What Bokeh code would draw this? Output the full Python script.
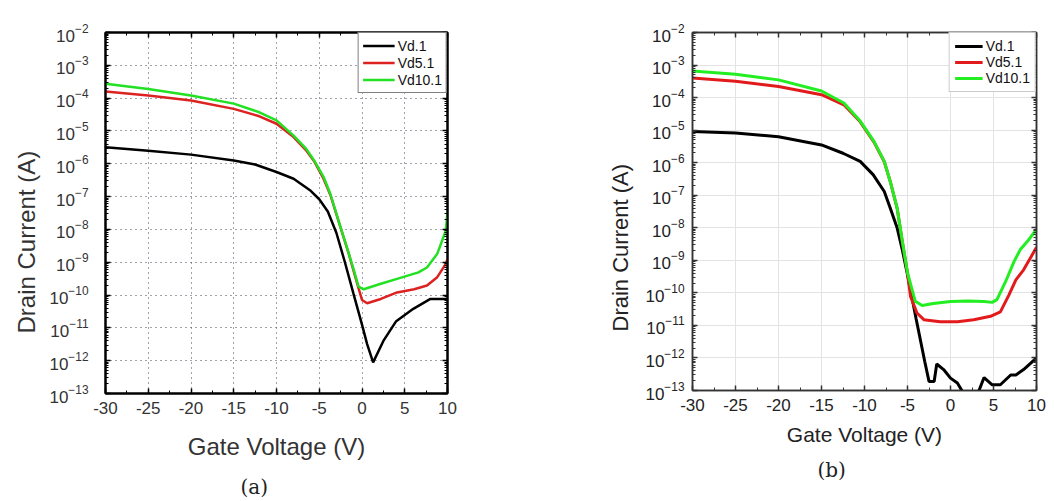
from bokeh.plotting import figure
from bokeh.layouts import row
from bokeh.models import LogAxis, LinearAxis, FixedTicker, Title, CustomJSTickFormatter
from bokeh.embed import file_html
from bokeh.resources import INLINE

# ---------------- data: panel (a) ----------------
a_vd1_v = [-30, -25, -20, -15, -12.5, -10, -8, -6, -5, -4, -3, -2, -1, 0, 0.6, 1.3, 2.5, 4, 6, 8, 10]
a_vd1_i = [3.2e-6, 2.5e-6, 1.9e-6, 1.26e-6, 9.5e-7, 5.6e-7, 3.5e-7, 1.5e-7, 8.3e-8, 3.5e-8,
           7.9e-9, 1.0e-9, 1.1e-10, 1.26e-11, 3.2e-12, 8.9e-13, 4.0e-12, 1.6e-11, 3.8e-11, 7.6e-11, 7.6e-11]

a_vd5_v = [-30, -25, -20, -15, -12, -10, -8, -6.5, -5.6, -4.5, -3.7, -2.5, -1.6, -0.4, 0.0, 0.6,
           2.2, 4.1, 6.1, 7.6, 8.8, 9.8, 10]
a_vd5_i = [1.6e-4, 1.2e-4, 8.5e-5, 4.7e-5, 2.8e-5, 1.66e-5, 6.5e-6, 2.5e-6, 1.2e-6, 3.5e-7, 1.12e-7,
           1.12e-8, 2.0e-9, 1.6e-10, 7.1e-11, 5.6e-11, 7.6e-11, 1.2e-10, 1.5e-10, 1.95e-10, 3.5e-10,
           8.9e-10, 1.26e-9]

a_vd10_v = [-30, -25, -20, -15, -12, -10, -8, -6.5, -5.6, -4.5, -3.7, -2.5, -1.7, -1.0, -0.4, 0.2,
            2.2, 4.1, 6.6, 7.6, 8.8, 9.8, 10]
a_vd10_i = [2.75e-4, 1.9e-4, 1.2e-4, 6.8e-5, 3.7e-5, 2.1e-5, 7.2e-6, 2.8e-6, 1.26e-6, 4.0e-7, 1.2e-7,
            1.15e-8, 2.5e-9, 6.3e-10, 1.8e-10, 1.5e-10, 2.2e-10, 3.1e-10, 4.9e-10, 6.9e-10, 1.8e-9,
            9.1e-9, 3.5e-8]

# ---------------- data: panel (b) ----------------
b_vd1_v = [-30, -25, -20, -15, -12.5, -10.5, -9, -7.7, -7, -6.2, -5.6, -5.0, -4, -3, -2.5, -1.9,
           -1.6, -0.8, 0.0, 0.8, 1.5, 2.3, 3.2, 3.9, 4.85, 5.8, 7.0, 7.6, 8.5, 10]
b_vd1_i = [9.1e-6, 8.1e-6, 6.3e-6, 3.5e-6, 1.95e-6, 1.1e-6, 4.3e-7, 1.3e-7, 4.0e-8, 9.8e-9, 2.1e-9,
           3.6e-10, 1.6e-11, 7.9e-13, 1.9e-13, 1.9e-13, 6.5e-13, 4.4e-13, 2.4e-13, 1.7e-13, 8.3e-14,
           2.5e-14, 8.3e-14, 2.5e-13, 1.5e-13, 1.5e-13, 3.0e-13, 3.0e-13, 4.4e-13, 1.0e-12]

b_vd5_v = [-30, -25, -20, -15, -12.4, -10.5, -8.9, -7.7, -7.0, -6.2, -5.6, -5.0, -4.65, -3.9, -3.1,
           -1.2, 0.8, 2.7, 4.65, 5.8, 6.8, 7.6, 8.5, 10]
b_vd5_i = [4.0e-4, 3.2e-4, 2.2e-4, 1.23e-4, 6.0e-5, 1.8e-5, 4.3e-6, 1.07e-6, 2.6e-7, 3.9e-8, 3.7e-9,
           4.0e-10, 7.8e-11, 2.4e-11, 1.5e-11, 1.3e-11, 1.3e-11, 1.5e-11, 1.9e-11, 2.6e-11, 8.7e-11,
           2.5e-10, 5.1e-10, 2.5e-9]

b_vd10_v = [-30, -25, -20, -15, -12.4, -10.5, -8.9, -7.7, -7.0, -6.2, -5.6, -5.0, -4.1, -3.3, -2.0,
            0.0, 2.0, 3.9, 4.85, 5.4, 6.4, 7.4, 8.1, 9.0, 10]
b_vd10_i = [6.6e-4, 5.2e-4, 3.5e-4, 1.6e-4, 6.8e-5, 1.9e-5, 4.5e-6, 1.1e-6, 2.6e-7, 4.0e-8, 3.8e-9,
            4.2e-10, 5.5e-11, 4.1e-11, 4.7e-11, 5.4e-11, 5.6e-11, 5.4e-11, 5.1e-11, 6.2e-11, 2.2e-10,
            9.3e-10, 2.1e-9, 4.0e-9, 8.9e-9]

series_names = ["Vd.1", "Vd5.1", "Vd10.1"]
x_label = "Gate Voltage (V)"
y_label = "Drain Current (A)"
panel_captions = ["(a)", "(b)"]

x_ticks = [-30, -25, -20, -15, -10, -5, 0, 5, 10]
x_minor = [-27.5, -22.5, -17.5, -12.5, -7.5, -2.5, 2.5, 7.5]
y_ticks = [1e-13, 1e-12, 1e-11, 1e-10, 1e-9, 1e-8, 1e-7, 1e-6, 1e-5, 1e-4, 1e-3, 1e-2]
y_minor = [m * t for t in y_ticks[:-1] for m in range(2, 10)]

FONT = "Liberation Sans"


def make_panel(series, colors, fw, fh, bl, bt, br, bb, style):
    p = figure(x_axis_type="linear", y_axis_type="log",
               x_range=(x_ticks[0], x_ticks[-1]), y_range=(y_ticks[0], y_ticks[-1]),
               frame_width=fw, frame_height=fh,
               min_border_left=bl, min_border_top=bt, min_border_right=br, min_border_bottom=bb,
               output_backend="svg", toolbar_location=None,
               background_fill_color="white", border_fill_color="white")
    p.add_layout(LinearAxis(), "above")
    p.add_layout(LogAxis(), "right")

    for ax in p.xaxis:
        ax.ticker = FixedTicker(ticks=x_ticks, minor_ticks=x_minor)
    for ax in p.yaxis:
        ax.ticker = FixedTicker(ticks=y_ticks, minor_ticks=y_minor)
    for ax in p.xaxis + p.yaxis:
        ax.major_tick_in = 5
        ax.major_tick_out = 0
        ax.minor_tick_in = 3
        ax.minor_tick_out = 0
        ax.axis_line_color = style["frame"]
        ax.axis_line_width = style["frame_w"]
        ax.major_tick_line_color = style["frame"]
        ax.minor_tick_line_color = style["frame"]
        ax.major_tick_line_width = 1.5
        ax.major_label_text_font = FONT
        ax.major_label_text_color = style["text"]
    for ax in (p.above[0], p.right[0]):
        ax.major_label_text_font_size = "1px"
        ax.major_label_text_alpha = 0
        ax.major_label_standoff = 1
    bx = p.below[0]
    bx.formatter = CustomJSTickFormatter(code="return String(tick);")
    bx.major_label_text_font_size = style["tick_fs"]
    bx.major_label_standoff = style["xstand"]
    bx.axis_label = x_label
    bx.axis_label_text_font = FONT
    bx.axis_label_text_font_style = "normal"
    bx.axis_label_text_font_size = style["xlab_fs"]
    bx.axis_label_text_color = style["text"]
    bx.axis_label_standoff = style["xlab_stand"]
    ly = p.left[0]
    ly.major_label_text_font_size = style["tick_fs"]
    ly.major_label_standoff = style["ystand"]

    p.outline_line_color = style["frame"]
    p.outline_line_width = style["frame_w"]

    p.xgrid.ticker = FixedTicker(ticks=x_ticks)
    p.ygrid.ticker = FixedTicker(ticks=y_ticks)
    for g in (p.xgrid, p.ygrid):
        g.grid_line_color = style["grid"]
        g.grid_line_width = 1
        g.grid_line_dash = style["grid_dash"]

    for (v, i), c, name in zip(series, colors, series_names):
        p.line(v, i, line_color=c, line_width=style["lw"], legend_label=name)

    lg = p.legend[0]
    lg.location = "top_right"
    lg.margin = 0
    lg.padding = style["lpad"]
    lg.spacing = 0
    lg.glyph_width = style["gw"]
    lg.glyph_height = style["ih"]
    lg.label_height = style["ih"]
    lg.label_standoff = 3
    lg.label_text_font = FONT
    lg.label_text_font_size = "14px"
    lg.label_text_color = "#111111"
    lg.border_line_color = style["lborder"]
    lg.border_line_width = 1
    lg.background_fill_alpha = 1.0

    p.add_layout(Title(text=y_label, align="left", offset=style["yl_off"], vertical_align="bottom",
                       standoff=style["yl_stand"], text_font=FONT, text_font_style="normal",
                       text_font_size=style["ylab_fs"], text_color=style["text"]), "left")
    p.add_layout(Title(text=style["caption"], align="left", offset=style["cap_off"],
                       vertical_align="bottom", standoff=style["cap_stand"],
                       text_font="DejaVu Serif", text_font_style="normal",
                       text_font_size="20px", text_color="#222222"), "below")
    return p


style_a = dict(frame="#000000", frame_w=2, text="#333333", tick_fs="17px", xstand=8, ystand=17,
               xlab_fs="24px", xlab_stand=16, grid="#444455", grid_dash="1 4", lw=2.5,
               lpad=4, gw=32, ih=17, lborder="#000000", yl_off=60, yl_stand=14, ylab_fs="24px",
               cap_off=135, cap_stand=20, caption=panel_captions[0])
style_b = dict(frame="#333333", frame_w=1.5, text="#222222", tick_fs="17px", xstand=8, ystand=8,
               xlab_fs="21px", xlab_stand=9, grid="#e3e3e3", grid_dash="solid", lw=3,
               lpad=5, gw=28, ih=16, lborder="#999999", yl_off=59, yl_stand=20, ylab_fs="22px",
               cap_off=125, cap_stand=14, caption=panel_captions[1])

pa = make_panel([(a_vd1_v, a_vd1_i), (a_vd5_v, a_vd5_i), (a_vd10_v, a_vd10_i)],
                ["#000000", "#dd2222", "#22e022"], 342, 361, 105, 32, 91, 107, style_a)
pb = make_panel([(b_vd1_v, b_vd1_i), (b_vd5_v, b_vd5_i), (b_vd10_v, b_vd10_i)],
                ["#000000", "#e31a1c", "#22ee22"], 344, 358, 154, 31, 10, 104, style_b)

layout = row(pa, pb, spacing=0)
open("out.html", "w").write(file_html(layout, INLINE))
